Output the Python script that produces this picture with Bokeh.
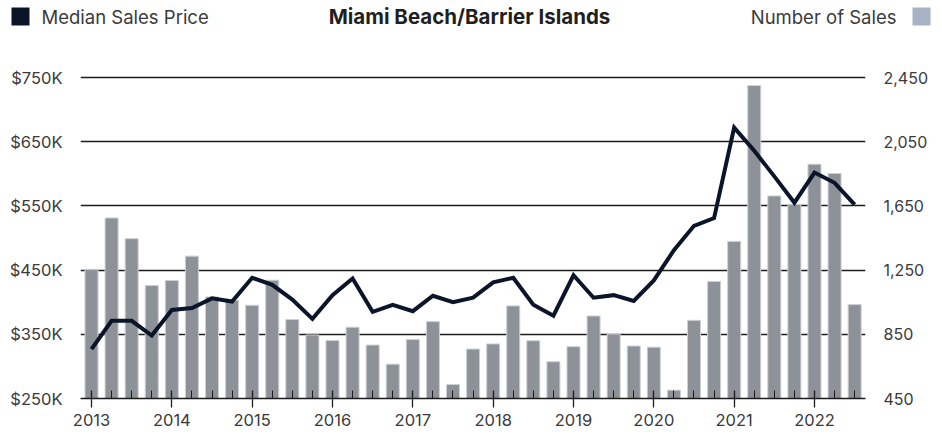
from bokeh.plotting import figure
from bokeh.models import (Range1d, LinearAxis, FixedTicker, PrintfTickFormatter,
                          NumeralTickFormatter, ColumnDataSource)
from bokeh.core.properties import value
from bokeh.embed import file_html
from bokeh.resources import INLINE

# ---------------- data ----------------
years = [2013, 2014, 2015, 2016, 2017, 2018, 2019, 2020, 2021, 2022]
quarter_labels = [f"{y} Q{q}" for y in years for q in (1, 2, 3, 4)][:39]
number_of_sales = [1255, 1575, 1446, 1154,
                   1185, 1337, 1083, 1062,
                   1031, 1187, 942, 846,
                   812, 894, 783, 664,
                   817, 929, 537, 758,
                   790, 1027, 810, 679,
                   773, 964, 852, 777,
                   770, 502, 937, 1179,
                   1429, 2400, 1712, 1660,
                   1910, 1852, 1035]
median_price_k = [327, 371, 371, 348,
                  388, 391, 406, 401,
                  438, 427, 404, 374,
                  411, 437, 385, 396,
                  386, 410, 400, 407,
                  431, 438, 396, 379,
                  442, 407, 411, 402,
                  434, 481, 519, 531,
                  672, 636, 596, 555,
                  602, 586, 552]
price_ticks = [250, 350, 450, 550, 650, 750]
sales_ticks = [450, 850, 1250, 1650, 2050, 2450]
title_text = "Miami Beach/Barrier Islands"
price_name = "Median Sales Price"
sales_name = "Number of Sales"

# quarter positions on a year axis
xq = [int(s[:4]) + (int(s[-1]) - 1) * 0.25 for s in quarter_labels]
minor = [v for v, s in zip(xq, quarter_labels) if not s.endswith("Q1")]

src = ColumnDataSource(dict(x=xq, sales=number_of_sales, price=median_price_k))

FONT = "Inter"
TXT = "#3a3a3a"
LINE_C = "#0b1529"
BAR_C = "#8d9299"
LEG_BAR_C = "#a7b3c5"

W, H = 942, 434
FL, FR, FT, FB = 80, 865, 74, 398   # frame edges in page pixels

y_start, y_end = 250, 754.7
p = figure(width=W, height=H, output_backend="svg", toolbar_location=None,
           x_range=Range1d(2012.863, 2022.635), y_range=Range1d(y_start, y_end),
           min_border_left=FL, min_border_right=W - FR, min_border_top=FT,
           min_border_bottom=H - FB)
p.extra_y_ranges = {"sales": Range1d(sales_ticks[0], sales_ticks[0] + (y_end - y_start) * 4),
                    "py": Range1d(FB, FT)}
p.extra_x_ranges = {"px": Range1d(FL, FR)}
p.outline_line_color = None
p.background_fill_color = "white"
p.border_fill_color = "white"

p.xgrid.visible = False
p.ygrid.ticker = FixedTicker(ticks=price_ticks)
p.ygrid.grid_line_color = "#1c1c1c"
p.ygrid.grid_line_width = 1.3

p.vbar(x="x", top="sales", bottom=sales_ticks[0], width=0.162, source=src,
       y_range_name="sales", fill_color=BAR_C, line_color="#cdd0d4", line_width=1)
p.line("x", "price", source=src, line_color=LINE_C, line_width=4, line_join="miter")

ya = p.yaxis[0]
ya.ticker = FixedTicker(ticks=price_ticks)
ya.formatter = PrintfTickFormatter(format="$%dK")
ya.axis_line_color = None
ya.major_tick_line_color = None
ya.minor_tick_line_color = None
ya.major_label_standoff = 12
ya.major_label_text_font = FONT
ya.major_label_text_font_size = "16.5px"
ya.major_label_text_color = TXT

ra = LinearAxis(y_range_name="sales", ticker=FixedTicker(ticks=sales_ticks),
                formatter=NumeralTickFormatter(format="0,0"))
ra.axis_line_color = None
ra.major_tick_line_color = None
ra.minor_tick_line_color = None
ra.major_label_standoff = 12
ra.major_label_text_font = FONT
ra.major_label_text_font_size = "16px"
ra.major_label_text_color = TXT
p.add_layout(ra, "right")

xa = p.xaxis[0]
xa.ticker = FixedTicker(ticks=years, minor_ticks=minor)
xa.axis_line_color = "#1c1c1c"
xa.axis_line_width = 1.3
xa.major_tick_line_color = "#1c1c1c"
xa.major_tick_line_width = 1.3
xa.major_tick_in = 8
xa.major_tick_out = 9
xa.minor_tick_line_color = "#1c1c1c"
xa.minor_tick_line_width = 1
xa.minor_tick_in = 8
xa.minor_tick_out = 0
xa.major_label_standoff = 6
xa.major_label_text_font = FONT
xa.major_label_text_font_size = "16.5px"
xa.major_label_text_color = TXT

# ---------------- header: legend entries and title (page-pixel ranges, unclipped level) ----
hk = dict(x_range_name="px", y_range_name="py", level="overlay")
p.quad(left=[11, 912], right=[29, 930], top=[7, 7], bottom=[25, 25],
       fill_color=[LINE_C, LEG_BAR_C], line_color=None, **hk)
p.text(x=[41], y=[16], text=[price_name], text_font=value(FONT), text_font_size="18.5px",
       text_color=TXT, text_baseline="middle", text_align="left", **hk)
p.text(x=[469], y=[16], text=[title_text], text_font=value(FONT), text_font_size="20.5px",
       text_font_style="bold", text_color="#1f1f1f", text_baseline="middle",
       text_align="center", **hk)
p.text(x=[896], y=[16], text=[sales_name], text_font=value(FONT), text_font_size="18.5px",
       text_color=TXT, text_baseline="middle", text_align="right", **hk)

open("out.html", "w").write(file_html(p, INLINE))
